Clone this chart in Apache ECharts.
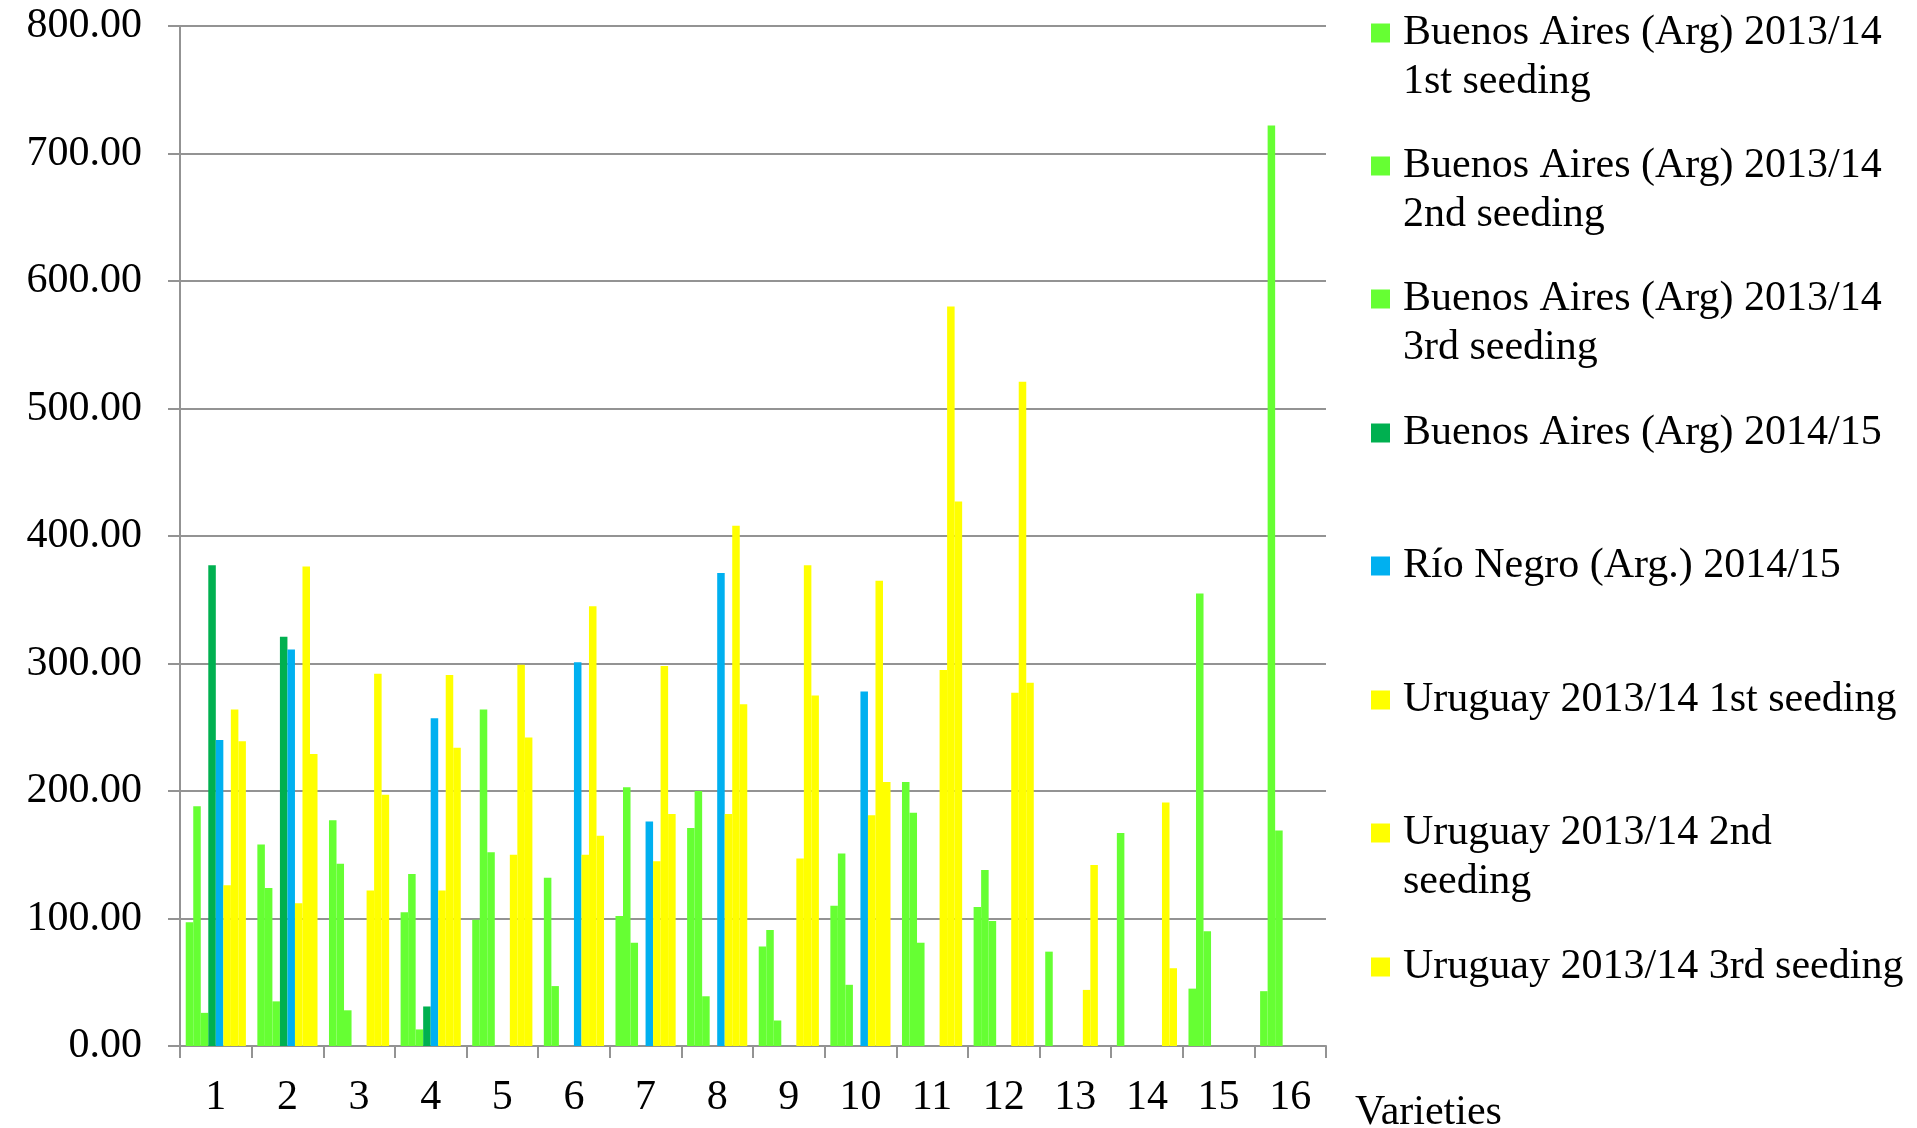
<!DOCTYPE html>
<html>
<head>
<meta charset="utf-8">
<script src="https://cdn.jsdelivr.net/npm/echarts@6/dist/echarts.min.js"></script>
<style>
html,body{margin:0;padding:0;background:#fff;}
#chart{width:1917px;height:1128px;}
</style>
</head>
<body>
<div id="chart"></div>
<script>
// ---------- DATA ----------
const categories = ['1','2','3','4','5','6','7','8','9','10','11','12','13','14','15','16'];
const seriesNames = [
  'Buenos Aires (Arg) 2013/14 1st seeding',
  'Buenos Aires (Arg) 2013/14 2nd seeding',
  'Buenos Aires (Arg) 2013/14 3rd seeding',
  'Buenos Aires (Arg) 2014/15',
  'Río Negro (Arg.) 2014/15',
  'Uruguay 2013/14 1st seeding',
  'Uruguay 2013/14 2nd seeding',
  'Uruguay 2013/14 3rd seeding'
];
const legendLabels = [
  ['Buenos Aires (Arg) 2013/14', '1st seeding'],
  ['Buenos Aires (Arg) 2013/14', '2nd seeding'],
  ['Buenos Aires (Arg) 2013/14', '3rd seeding'],
  ['Buenos Aires (Arg) 2014/15'],
  ['Río Negro (Arg.) 2014/15'],
  ['Uruguay 2013/14 1st seeding'],
  ['Uruguay 2013/14 2nd', 'seeding'],
  ['Uruguay 2013/14 3rd seeding']
];
const baSeeding1 = [97, 158, 177, 105, 99, 132, 102, 171, 78, 110, 207, 109, 74, 167, 45, 43];
const baSeeding2 = [188, 124, 143, 135, 264, 47, 203, 200, 91, 151, 183, 138, null, null, 355, 722];
const baSeeding3 = [26, 35, 28, 13, 152, null, 81, 39, 20, 48, 81, 98, null, null, 90, 169];
const ba1415 = [377, 321, null, 31, null, null, null, null, null, null, null, null, null, null, null, null];
const rioNegro1415 = [240, 311, null, 257, null, 301, 176, 371, null, 278, null, null, null, null, null, null];
const uySeeding1 = [126, 112, 122, 122, 150, 150, 145, 182, 147, 181, 295, 277, 44, null, null, null];
const uySeeding2 = [264, 376, 292, 291, 299, 345, 298, 408, 377, 365, 580, 521, 142, 191, null, null];
const uySeeding3 = [239, 229, 197, 234, 242, 165, 182, 268, 275, 207, 427, 285, null, 61, null, null];
const yTicks = [0, 100, 200, 300, 400, 500, 600, 700, 800];
const xAxisTitle = 'Varieties';

// ---------- STYLE ----------
const seriesData = [baSeeding1, baSeeding2, baSeeding3, ba1415, rioNegro1415, uySeeding1, uySeeding2, uySeeding3];
const colors = ['#66FF33', '#66FF33', '#66FF33', '#00B050', '#00B0F0', '#FFFF00', '#FFFF00', '#FFFF00'];
const FONT = '"Liberation Serif", "Times New Roman", serif';
const FS = 42;
const LH = 49;
const legendIconCenters = [33, 166, 299, 433, 566, 700, 833, 967];
const gridColor = '#939393';

const legends = seriesNames.map((name, i) => {
  const lines = legendLabels[i];
  const two = lines.length > 1;
  const text = two ? '\n' + lines.join('\n') : lines[0];
  return {
    data: [name],
    orient: 'vertical',
    left: 1371,
    top: legendIconCenters[i] - (two ? 1.5 * LH : 0.5 * LH),
    padding: 0,
    icon: 'rect',
    itemWidth: 19,
    itemHeight: 19,
    selectedMode: false,
    formatter: () => text,
    textStyle: {
      fontFamily: FONT,
      fontSize: FS,
      lineHeight: LH,
      color: '#000',
      padding: [0, 0, 0, 8]
    }
  };
});

const option = {
  backgroundColor: '#ffffff',
  animation: false,
  textStyle: { fontFamily: FONT },
  grid: { left: 180, right: 591, top: 26, bottom: 82, containLabel: false, outerBoundsMode: 'none' },
  legend: legends,
  xAxis: {
    type: 'category',
    data: categories,
    name: xAxisTitle,
    nameLocation: 'end',
    nameGap: 29,
    nameTextStyle: {
      fontFamily: FONT, fontSize: FS, color: '#000',
      align: 'left', verticalAlign: 'top', padding: [46, 0, 0, 0]
    },
    axisLine: { show: true, lineStyle: { color: gridColor, width: 2 } },
    axisTick: { show: true, length: 12, lineStyle: { color: gridColor, width: 2 } },
    axisLabel: { fontFamily: FONT, fontSize: FS, color: '#000', margin: 31, interval: 0 },
    splitLine: { show: false }
  },
  yAxis: {
    type: 'value',
    min: yTicks[0],
    max: yTicks[yTicks.length - 1],
    interval: yTicks[1] - yTicks[0],
    axisLine: { show: true, lineStyle: { color: gridColor, width: 2 } },
    axisTick: { show: true, length: 12, lineStyle: { color: gridColor, width: 2 } },
    axisLabel: {
      fontFamily: FONT, fontSize: FS, color: '#000', margin: 38,
      formatter: v => v.toFixed(2)
    },
    splitLine: { show: true, lineStyle: { color: gridColor, width: 2 } }
  },
  series: seriesNames.map((name, i) => ({
    name: name,
    type: 'bar',
    data: seriesData[i],
    barGap: '0%',
    barCategoryGap: '16%',
    itemStyle: {
      color: colors[i],
      borderWidth: 0
    }
  }))
};

const chart = echarts.init(document.getElementById('chart'), null, { renderer: 'canvas' });
chart.setOption(option);
</script>
</body>
</html>
